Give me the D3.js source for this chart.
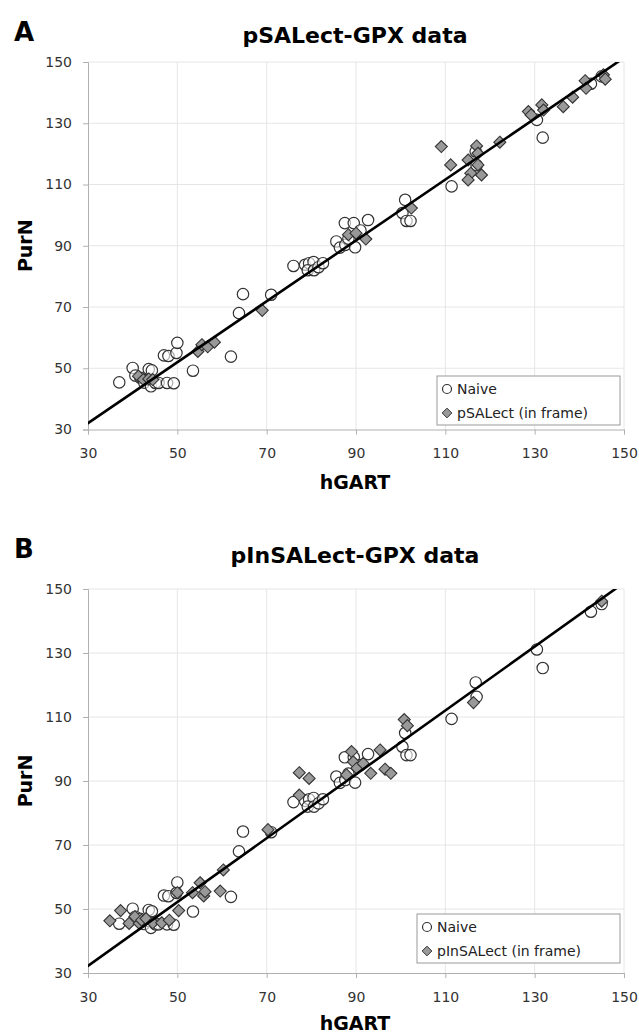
<!DOCTYPE html>
<html>
<head>
<meta charset="utf-8">
<script src="https://cdn.jsdelivr.net/npm/d3@7"></script>
<style>
  body { margin: 0; background: #fff; }
  svg text { font-family: "DejaVu Sans", Verdana, sans-serif; }
</style>
</head>
<body>
<div id="chart"></div>
<script>
// Two scatter panels: PurN vs hGART, naive library vs selected library

const ticks = [30, 50, 70, 90, 110, 130, 150];

// naive library (same in both panels)
const naive = [
  [37.0, 45.4], [40.0, 50.1], [40.6, 47.6], [41.7, 46.9], [42.6, 45.3], [43.4, 46.3],
  [43.6, 49.7], [44.3, 49.3], [44.1, 44.1], [45.1, 45.2], [45.8, 45.2], [47.7, 45.2],
  [49.2, 45.1], [47.0, 54.2], [48.0, 54.0], [49.8, 55.0], [50.0, 58.3], [53.5, 49.2],
  [62.0, 53.8], [63.8, 68.0], [64.7, 74.2], [71.0, 74.0], [76.0, 83.4], [78.6, 83.8],
  [79.5, 84.3], [80.5, 84.7], [79.2, 82.0], [80.6, 82.0], [81.6, 83.0], [82.6, 84.3],
  [85.6, 91.4], [86.4, 89.4], [87.5, 97.4], [89.5, 97.4], [92.7, 98.4], [87.6, 90.3],
  [89.8, 89.5], [91.0, 95.0], [88.3, 92.3], [101.0, 105.0], [100.4, 100.7], [101.3, 98.1],
  [102.2, 98.1], [111.4, 109.4], [116.8, 120.8], [117.0, 116.3], [130.5, 131.1],
  [131.8, 125.3], [142.6, 142.9], [145.0, 145.3]
];

// pSALect (in frame)
const pSALect = [
  [41.3, 47.4], [42.4, 46.3], [43.6, 46.5], [44.5, 46.3], [54.6, 55.5], [55.5, 57.7],
  [56.8, 57.0], [58.3, 58.5], [69.0, 68.9], [88.3, 93.6], [90.0, 94.1], [92.2, 92.2],
  [102.4, 102.3], [109.1, 122.4], [111.2, 116.4], [115.1, 118.0], [117.0, 122.6],
  [117.3, 120.2], [115.7, 113.7], [115.1, 111.5], [118.1, 113.1], [117.3, 116.4],
  [122.2, 123.8], [128.6, 133.8], [129.2, 132.7], [131.6, 136.0], [132.0, 134.3],
  [136.4, 135.4], [138.5, 138.5], [141.3, 143.9], [141.5, 141.4], [145.4, 145.8],
  [145.8, 144.4]
];

// pInSALect (in frame)
const pInSALect = [
  [34.9, 46.3], [37.3, 49.5], [39.2, 45.5], [40.5, 47.6], [41.5, 45.5], [42.0, 46.5],
  [43.0, 47.0], [44.5, 45.7], [46.5, 45.7], [48.2, 46.5], [50.3, 49.5], [50.0, 55.1],
  [53.4, 55.1], [55.1, 58.2], [55.9, 54.1], [56.2, 55.4], [59.6, 55.6], [60.3, 62.2],
  [70.3, 74.8], [77.3, 85.6], [77.3, 92.6], [79.5, 90.8], [87.9, 91.9], [89.0, 99.2],
  [89.4, 96.0], [90.2, 94.0], [91.6, 95.5], [93.3, 92.4], [95.4, 99.7], [96.5, 93.7],
  [97.8, 92.4], [100.8, 109.2], [101.5, 107.3], [116.3, 114.5], [145.0, 146.2]
];

// linear fits: [slope, intercept]
const fitA = [0.994, 2.28];
const fitB = [0.998, 2.26];

const panels = [
  { id: "A", title: "pSALect-GPX data", series: pSALect, name: "pSALect (in frame)", fit: fitA,
    top: 62, bottom: 429.5, titleY: 43, letterY: 41, labelY: 489,
    legend: { x: 437, y: 376, w: 183, h: 49 } },
  { id: "B", title: "pInSALect-GPX data", series: pInSALect, name: "pInSALect (in frame)", fit: fitB,
    top: 589, bottom: 973, titleY: 563, letterY: 558, labelY: 1030,
    legend: { x: 417, y: 914, w: 203, h: 49 } }
];

const left = 88, right = 624;

const svg = d3.select("#chart").append("svg")
  .attr("width", 639).attr("height", 1035);

const diamond = d3.symbol().type(d3.symbolDiamond2).size(92);

panels.forEach((p, i) => {
  const x = d3.scaleLinear().domain([30, 150]).range([left, right]);
  const y = d3.scaleLinear().domain([30, 150]).range([p.bottom, p.top]);
  const g = svg.append("g");

  // grid
  g.append("g").selectAll("line").data(ticks.slice(1)).join("line")
    .attr("x1", d => x(d)).attr("x2", d => x(d))
    .attr("y1", p.top).attr("y2", p.bottom)
    .attr("stroke", "#e6e6e6");
  g.append("g").selectAll("line").data(ticks.slice(1)).join("line")
    .attr("x1", left).attr("x2", right)
    .attr("y1", d => y(d)).attr("y2", d => y(d))
    .attr("stroke", "#e6e6e6");

  // axes
  const xa = g.append("g").attr("transform", `translate(0,${p.bottom})`)
    .call(d3.axisBottom(x).tickValues(ticks).tickSize(5).tickPadding(14));
  const ya = g.append("g").attr("transform", `translate(${left},0)`)
    .call(d3.axisLeft(y).tickValues(ticks).tickSize(5).tickPadding(11));
  [xa, ya].forEach(a => {
    a.select(".domain").attr("stroke", "#b0b0b0");
    a.selectAll(".tick line").attr("stroke", "#b0b0b0");
    a.selectAll(".tick text").attr("fill", "#333").style("font-size", "14px");
  });

  // clip
  svg.append("clipPath").attr("id", "clip" + i).append("rect")
    .attr("x", left).attr("y", p.top).attr("width", right - left).attr("height", p.bottom - p.top);
  const plot = g.append("g").attr("clip-path", `url(#clip${i})`);

  plot.selectAll("circle").data(naive).join("circle")
    .attr("cx", d => x(d[0])).attr("cy", d => y(d[1])).attr("r", 5.7)
    .attr("fill", "#fff").attr("fill-opacity", 0.6)
    .attr("stroke", "#333").attr("stroke-width", 1.2);

  plot.selectAll("path.sel").data(p.series).join("path").attr("class", "sel")
    .attr("transform", d => `translate(${x(d[0])},${y(d[1])})`)
    .attr("d", diamond)
    .attr("fill", "#999").attr("stroke", "#333").attr("stroke-width", 1.1);

  const [m, b] = p.fit;
  plot.append("line")
    .attr("x1", x(28)).attr("y1", y(m * 28 + b))
    .attr("x2", x(152)).attr("y2", y(m * 152 + b))
    .attr("stroke", "#000").attr("stroke-width", 2.6);

  // titles
  g.append("text").attr("x", 14).attr("y", p.letterY)
    .style("font-size", "26px").style("font-weight", "bold").text(p.id);
  g.append("text").attr("x", 355).attr("y", p.titleY).attr("text-anchor", "middle")
    .style("font-size", "22px").style("font-weight", "bold").text(p.title);
  g.append("text").attr("x", 355).attr("y", p.labelY).attr("text-anchor", "middle")
    .style("font-size", "19px").style("font-weight", "bold").text("hGART");
  g.append("text")
    .attr("transform", `translate(32,${(p.top + p.bottom) / 2}) rotate(-90)`)
    .attr("text-anchor", "middle")
    .style("font-size", "19px").style("font-weight", "bold").text("PurN");

  // legend
  const L = p.legend;
  const lg = g.append("g");
  lg.append("rect").attr("x", L.x).attr("y", L.y).attr("width", L.w).attr("height", L.h)
    .attr("fill", "#fff").attr("stroke", "#999");
  lg.append("circle").attr("cx", L.x + 10).attr("cy", L.y + 13).attr("r", 4.5)
    .attr("fill", "#fff").attr("stroke", "#333").attr("stroke-width", 1.2);
  lg.append("path").attr("transform", `translate(${L.x + 10},${L.y + 37})`)
    .attr("d", d3.symbol().type(d3.symbolDiamond2).size(60))
    .attr("fill", "#999").attr("stroke", "#333");
  lg.append("text").attr("x", L.x + 20).attr("y", L.y + 18)
    .style("font-size", "14px").attr("fill", "#222").text("Naive");
  lg.append("text").attr("x", L.x + 20).attr("y", L.y + 42)
    .style("font-size", "14px").attr("fill", "#222").text(p.name);
});
</script>
</body>
</html>
